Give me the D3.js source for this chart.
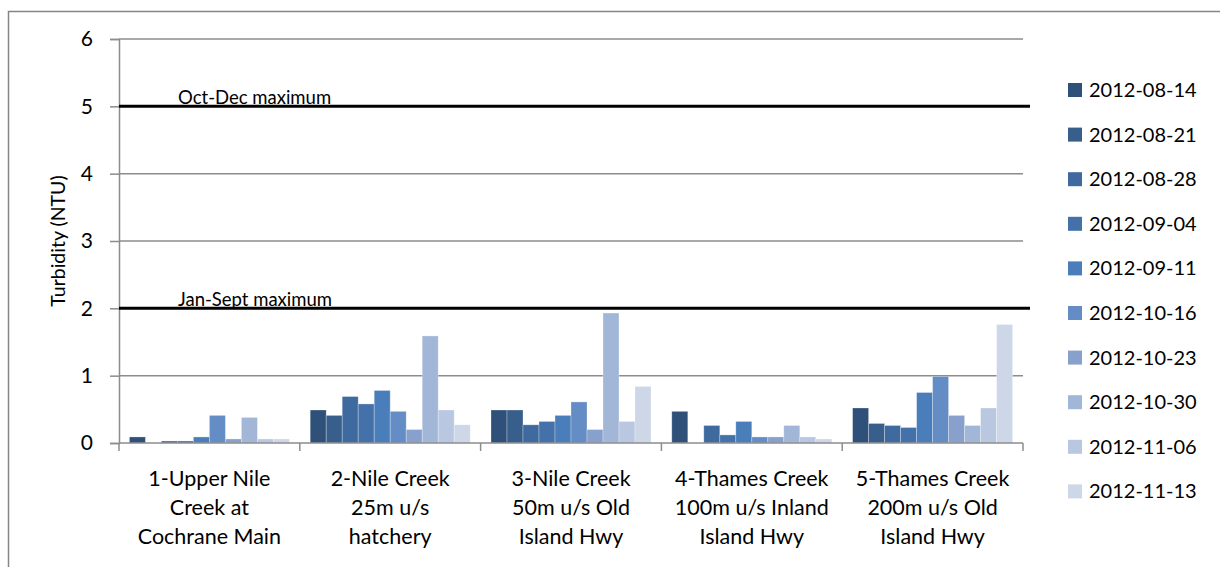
<!DOCTYPE html>
<html><head><meta charset="utf-8">
<script src="https://cdn.jsdelivr.net/npm/d3@7"></script>
<style>body{margin:0;background:#fff;}svg{display:block;font-family:Lato,"Open Sans",sans-serif;}</style>
</head><body><svg id="c" width="1220" height="567"></svg>
<script>
const categories = [
  ["1-Upper Nile","Creek at","Cochrane Main"],
  ["2-Nile Creek","25m u/s","hatchery"],
  ["3-Nile Creek","50m u/s  Old","Island Hwy"],
  ["4-Thames Creek","100m u/s Inland","Island Hwy"],
  ["5-Thames Creek","200m u/s Old","Island Hwy"]
];
const seriesNames = ["2012-08-14","2012-08-21","2012-08-28","2012-09-04","2012-09-11","2012-10-16","2012-10-23","2012-10-30","2012-11-06","2012-11-13"];
const seriesColors = ["#2f5079","#385e8c","#3e6a9f","#4471aa","#4a7ebb","#658dc5","#87a1cc","#a2b6d8","#b9c7e1","#cdd7e8"];
// values[series][category]
const values = [
  [0.09,0.49,0.49,0.47,0.52],
  [0.00,0.41,0.49,0.00,0.29],
  [0.03,0.69,0.27,0.26,0.26],
  [0.03,0.58,0.32,0.12,0.23],
  [0.09,0.78,0.41,0.32,0.75],
  [0.41,0.47,0.61,0.09,0.99],
  [0.06,0.20,0.20,0.09,0.41],
  [0.38,1.59,1.93,0.26,0.26],
  [0.06,0.49,0.32,0.09,0.52],
  [0.06,0.27,0.84,0.06,1.76]
];
const yTicks = [0,1,2,3,4,5,6];
const refLines = [{v:5,label:"Oct-Dec maximum"},{v:2,label:"Jan-Sept maximum"}];

const svg = d3.select("#c");
const L=119, R=1023, T=39, B=443;
svg.append("rect").attr("x",8.5).attr("y",11.5).attr("width",1230).attr("height",600)
  .attr("fill","none").attr("stroke","#868686").attr("stroke-width",1.5);

const x = d3.scaleBand().domain(d3.range(categories.length)).range([L,R]).paddingInner(0).paddingOuter(0);
const xs = d3.scaleBand().domain(d3.range(seriesNames.length)).range([0,x.bandwidth()]).paddingInner(0).paddingOuter(0.65);
const y = d3.scaleLinear().domain([0,6]).range([B,T]);

// gridlines
svg.append("g").selectAll("line").data(yTicks.filter(d=>d>0)).join("line")
  .attr("x1",L).attr("x2",R).attr("y1",d=>y(d)).attr("y2",d=>y(d))
  .attr("stroke","#8c8c8c").attr("stroke-width",1.5);

// bars
const g = svg.append("g");
values.forEach((arr,si)=>{
  g.selectAll(null).data(arr.map((v,ci)=>({v,ci}))).join("rect")
    .attr("x",d=>x(d.ci)+xs(si)).attr("width",xs.bandwidth())
    .attr("y",d=>y(d.v)).attr("height",d=>B-y(d.v))
    .attr("fill",seriesColors[si]).attr("stroke",d=>d.v>0?"rgba(255,255,255,0.35)":"none").attr("stroke-width",0.8);
});

// y axis
const ya = svg.append("g").attr("transform",`translate(${L},0)`)
  .call(d3.axisLeft(y).tickValues(yTicks).tickSize(9).tickPadding(17).tickFormat(d3.format("d")));
ya.select(".domain").attr("stroke","#8c8c8c").attr("stroke-width",1.5);
ya.selectAll(".tick line").attr("stroke","#8c8c8c").attr("stroke-width",1.5);
ya.selectAll("text").attr("font-size",21).attr("fill","#000").attr("font-family","Lato,sans-serif");

// x axis
const xa = svg.append("g").attr("transform",`translate(0,${B})`);
xa.append("line").attr("x1",L).attr("x2",R).attr("stroke","#8c8c8c").attr("stroke-width",1.5);
xa.selectAll("line.t").data(d3.range(categories.length+1)).join("line").attr("class","t")
  .attr("x1",i=>L+i*x.step()).attr("x2",i=>L+i*x.step()).attr("y1",0).attr("y2",8)
  .attr("stroke","#8c8c8c").attr("stroke-width",1.5);
categories.forEach((lines,ci)=>{
  const t = xa.append("text").attr("text-anchor","middle").attr("font-size",21.5).attr("fill","#000")
    .attr("x",x(ci)+x.bandwidth()/2);
  lines.forEach((ln,li)=>t.append("tspan").attr("x",x(ci)+x.bandwidth()/2).attr("y",43+li*29).text(ln));
});

// reference lines
refLines.forEach(r=>{
  svg.append("line").attr("x1",L).attr("x2",1030).attr("y1",y(r.v)).attr("y2",y(r.v))
    .attr("stroke","#000").attr("stroke-width",3);
  svg.append("text").attr("x",178).attr("y",y(r.v)-2).attr("font-size",18.5).attr("fill","#000").text(r.label);
});

// y label
svg.append("text").attr("transform",`translate(65,${(T+B)/2}) rotate(-90)`).attr("text-anchor","middle")
  .attr("font-size",19.5).attr("fill","#000").text("Turbidity (NTU)");

// legend
const lg = svg.append("g");
seriesNames.forEach((n,i)=>{
  const cy = 90 + i*44.6;
  lg.append("rect").attr("x",1068).attr("y",cy-7).attr("width",14).attr("height",14).attr("fill",seriesColors[i]);
  lg.append("text").attr("x",1089).attr("y",cy+7).attr("font-size",20).attr("fill","#000").text(n);
});
</script></body></html>
